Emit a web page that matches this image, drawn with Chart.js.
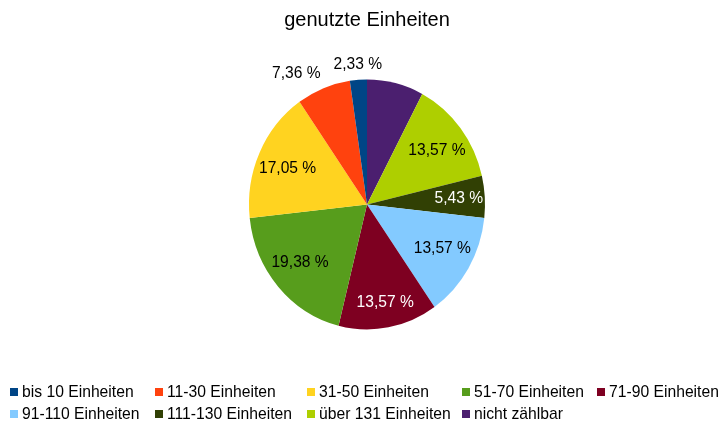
<!DOCTYPE html>
<html lang="de">
<head>
    <meta charset="UTF-8">
    <title>genutzte Einheiten</title>
    <script src="https://cdn.jsdelivr.net/npm/chart.js"></script>
    <style>
        body {
            margin: 0;
            background-color: white;
            font-family: 'Liberation Sans', Arial, sans-serif;
        }
        .wrap {
            position: relative;
            width: 720px;
            height: 423px;
        }
        #legend {
            position: absolute;
            left: 10px;
            top: 381px;
            display: grid;
            grid-template-columns: 145px 152px 155px 135px auto;
            font-size: 15.7px;
            line-height: 22px;
            color: black;
        }
        .item {
            display: flex;
            align-items: center;
            white-space: nowrap;
        }
        .box {
            width: 8px;
            height: 8px;
            margin-right: 4px;
        }
    </style>
</head>
<body>
    <div class="wrap">
        <canvas id="pieChart" width="720" height="423"></canvas>
        <div id="legend"></div>
    </div>

    <script>
        const categories = ['bis 10 Einheiten', '11-30 Einheiten', '31-50 Einheiten', '51-70 Einheiten', '71-90 Einheiten',
                            '91-110 Einheiten', '111-130 Einheiten', 'über 131 Einheiten', 'nicht zählbar'];
        const counts = [6, 19, 44, 50, 35, 35, 14, 35, 20];
        const colors = ['#004586', '#ff420e', '#ffd320', '#579d1c', '#7e0021', '#83caff', '#314004', '#aecf00', '#4b1f6f'];
        // where the percent label goes for each slice
        const labelPlacement = ['outside', 'outside', 'inside', 'inside', 'inside', 'inside', 'inside', 'inside', 'none'];

        const total = counts.reduce((a, b) => a + b, 0);
        // original chart runs counterclockwise from 12 o'clock, Chart.js runs clockwise
        const order = categories.map((_, i) => categories.length - 1 - i);
        const stretchY = 125 / 118;
        const fontFamily = "'Liberation Sans', Arial, sans-serif";

        function percentText(v) {
            return (v / total * 100).toFixed(2).replace('.', ',') + ' %';
        }

        function isDark(hex) {
            const c = [1, 3, 5].map(k => parseInt(hex.substr(k, 2), 16) / 255)
                .map(v => v <= 0.04045 ? v / 12.92 : Math.pow((v + 0.055) / 1.055, 2.4));
            return 0.2126 * c[0] + 0.7152 * c[1] + 0.0722 * c[2] < 0.15;
        }

        const pieLabels = {
            id: 'pieLabels',
            beforeDatasetsDraw(chart) {
                const arc = chart.getDatasetMeta(0).data[0];
                const ctx = chart.ctx;
                ctx.save();
                ctx.translate(arc.x, arc.y);
                ctx.scale(1, stretchY);
                ctx.translate(-arc.x, -arc.y);
            },
            afterDatasetsDraw(chart) {
                const ctx = chart.ctx;
                ctx.restore();
                ctx.save();
                ctx.font = '15.6px ' + fontFamily;
                chart.getDatasetMeta(0).data.forEach((arc, j) => {
                    const i = order[j];
                    if (labelPlacement[i] === 'none') return;
                    const text = percentText(counts[i]);
                    const p = arc.getProps(['x', 'y', 'startAngle', 'endAngle', 'outerRadius'], true);
                    const mid = (p.startAngle + p.endAngle) / 2;
                    const dx = Math.cos(mid), dy = Math.sin(mid);
                    const rx = p.outerRadius, ry = p.outerRadius * stretchY;
                    let px, py;
                    if (labelPlacement[i] === 'inside') {
                        // push the text box outwards until its outer corner reaches the rim
                        const hw = ctx.measureText(text).width / 2, hh = 9;
                        const lim = rx - 1;
                        let lo = 0, hi = lim;
                        for (let k = 0; k < 30; k++) {
                            const t = (lo + hi) / 2;
                            const cxp = t * dx + Math.sign(dx) * hw, cyp = t * dy + Math.sign(dy) * hh;
                            if (Math.hypot(cxp, cyp) <= lim) lo = t; else hi = t;
                        }
                        px = p.x + dx * lo;
                        py = p.y + dy * lo;
                        ctx.textAlign = 'center';
                        ctx.textBaseline = 'middle';
                        ctx.fillStyle = isDark(colors[i]) ? 'white' : 'black';
                    } else {
                        px = p.x + dx * (rx + 8);
                        py = p.y + dy * (ry + 7.5);
                        ctx.textAlign = Math.abs(dx) < 0.2 ? 'center' : (dx < 0 ? 'right' : 'left');
                        ctx.textBaseline = Math.abs(dy) < 0.2 ? 'middle' : (dy < 0 ? 'bottom' : 'top');
                        ctx.fillStyle = 'black';
                    }
                    ctx.fillText(text, px, py);
                });
                ctx.restore();
            }
        };

        new Chart(document.getElementById('pieChart').getContext('2d'), {
            type: 'pie',
            data: {
                labels: order.map(i => categories[i]),
                datasets: [{
                    data: order.map(i => counts[i]),
                    backgroundColor: order.map(i => colors[i]),
                    borderWidth: 0,
                    hoverOffset: 0,
                    offset: 0
                }]
            },
            options: {
                responsive: false,
                animation: false,
                layout: {
                    padding: { left: 249, right: 235, top: 0, bottom: 100.6 }
                },
                plugins: {
                    legend: { display: false },
                    tooltip: { enabled: false },
                    title: {
                        display: true,
                        text: 'genutzte Einheiten',
                        color: 'black',
                        font: { family: fontFamily, size: 20, weight: 'normal' },
                        padding: { top: 8, bottom: 54.4 }
                    }
                }
            },
            plugins: [pieLabels]
        });

        // legend in a column aligned grid, in original order
        const legend = document.getElementById('legend');
        categories.forEach((name, i) => {
            const item = document.createElement('div');
            item.className = 'item';
            item.innerHTML = '<span class="box" style="background:' + colors[i] + '"></span>' + name;
            legend.appendChild(item);
        });
    </script>
</body>
</html>
